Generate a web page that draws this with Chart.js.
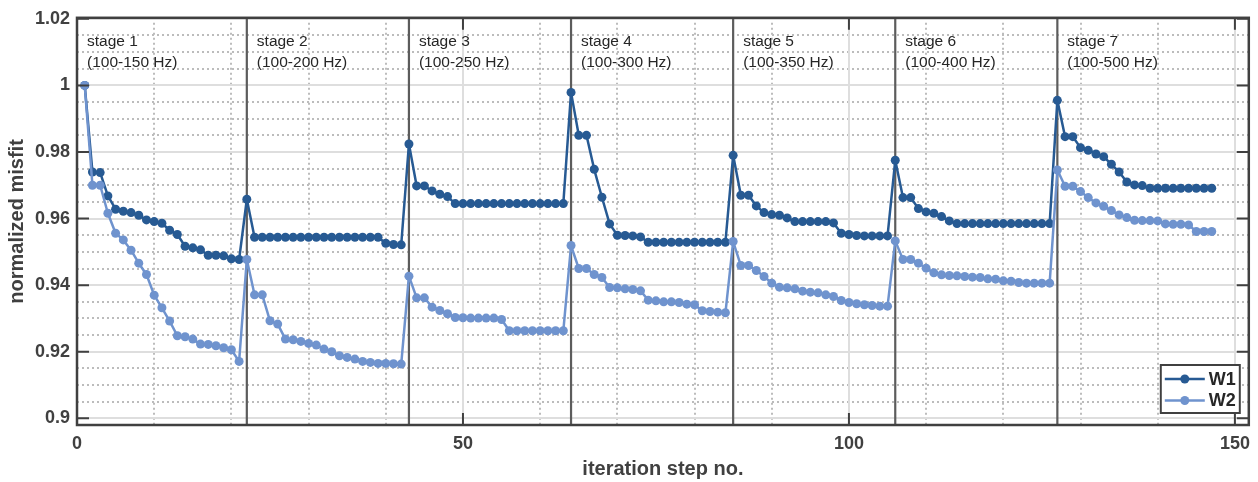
<!DOCTYPE html>
<html lang="en">
<head>
  <meta charset="UTF-8">
  <title>Normalized misfit per iteration</title>
  <script src="https://cdn.jsdelivr.net/npm/chart.js"></script>
  <style>
    body { margin: 0; background: #fff; }
    .chart-box { width: 1258px; height: 482px; }
  </style>
</head>
<body>
  <div class="chart-box">
    <canvas id="misfit-chart" width="1258" height="482"></canvas>
  </div>
  <script>
    // misfit values, one entry per iteration step (step 1 .. 147), 21 steps per stage
    const w1 = [
      1.0, 0.974, 0.9738, 0.9668, 0.9628, 0.9622, 0.9618, 0.961, 0.9596, 0.9591, 0.9586,
      0.9565, 0.9552, 0.9517, 0.9512, 0.9506, 0.949, 0.949, 0.9488, 0.9479, 0.9477,
      0.9658, 0.9544, 0.9544, 0.9544, 0.9544, 0.9544, 0.9544, 0.9544, 0.9544, 0.9544, 0.9544,
      0.9544, 0.9544, 0.9544, 0.9544, 0.9544, 0.9544, 0.9544, 0.9526, 0.9522, 0.9521,
      0.9824, 0.9698, 0.9698, 0.9683, 0.9673, 0.9666, 0.9645, 0.9645, 0.9645, 0.9645, 0.9645,
      0.9645, 0.9645, 0.9645, 0.9645, 0.9645, 0.9645, 0.9645, 0.9645, 0.9645, 0.9645,
      0.9979, 0.985, 0.985, 0.9748, 0.9664, 0.9584, 0.955, 0.9549, 0.9548, 0.9545, 0.9529,
      0.9529, 0.9529, 0.9529, 0.9529, 0.9529, 0.9529, 0.9529, 0.9529, 0.9529, 0.9529,
      0.979, 0.967, 0.967, 0.9638, 0.9618, 0.9612, 0.961, 0.9602, 0.9591, 0.9591, 0.9591,
      0.9591, 0.9591, 0.9587, 0.9556, 0.9552, 0.9549, 0.9548, 0.9548, 0.9548, 0.9548,
      0.9775, 0.9663, 0.9663, 0.963, 0.962, 0.9616, 0.9606, 0.9593, 0.9585, 0.9585, 0.9585,
      0.9585, 0.9585, 0.9585, 0.9585, 0.9585, 0.9585, 0.9585, 0.9585, 0.9585, 0.9585,
      0.9955, 0.9846, 0.9846, 0.9813, 0.9805, 0.9794, 0.9786, 0.9763, 0.974, 0.971, 0.9701,
      0.9699, 0.9691, 0.9691, 0.9691, 0.9691, 0.9691, 0.9691, 0.9691, 0.9691, 0.9691
    ];
    const w2 = [
      1.0, 0.97, 0.97, 0.9616, 0.9556, 0.9536, 0.9505, 0.9466, 0.9432, 0.937, 0.9332,
      0.9292, 0.9248, 0.9245, 0.9238, 0.9223, 0.9222, 0.9218, 0.9212, 0.9206, 0.9171,
      0.9477, 0.9371, 0.9371, 0.9293, 0.9283, 0.9238, 0.9236, 0.9231, 0.9225, 0.922, 0.9208,
      0.92, 0.9188, 0.9183, 0.9178, 0.9171, 0.9168, 0.9165, 0.9165, 0.9164, 0.9163,
      0.9427, 0.9362, 0.9362, 0.9334, 0.9324, 0.9314, 0.9303, 0.9302, 0.9301, 0.9301, 0.9301,
      0.9301, 0.9297, 0.9263, 0.9263, 0.9263, 0.9263, 0.9263, 0.9263, 0.9263, 0.9263,
      0.9519, 0.945, 0.945, 0.9432, 0.9423, 0.9393, 0.9392, 0.9389, 0.9387, 0.9383, 0.9355,
      0.9353, 0.935, 0.935, 0.9348, 0.9343, 0.9341, 0.9323, 0.9321, 0.9319, 0.9317,
      0.9531, 0.9459, 0.9459, 0.9444, 0.9426, 0.9406, 0.9394, 0.9392, 0.9389, 0.9382, 0.9379,
      0.9377, 0.9371, 0.9366, 0.9354, 0.9348, 0.9344, 0.9341, 0.9339, 0.9337, 0.9337,
      0.9533, 0.9477, 0.9477, 0.9466, 0.9451, 0.9437, 0.9431, 0.9429, 0.9428, 0.9426, 0.9424,
      0.9423, 0.9419, 0.9418, 0.9413, 0.9412, 0.9408, 0.9406, 0.9406, 0.9406, 0.9406,
      0.9746, 0.9697, 0.9697, 0.9681, 0.9663, 0.9647, 0.9637, 0.9624, 0.9611, 0.9603, 0.9595,
      0.9594, 0.9594, 0.9593, 0.9584, 0.9583, 0.9583, 0.9581, 0.9561, 0.9561, 0.9561
    ];

    // stage boundaries (first step of each new stage) and their labels
    const stageStarts = [0, 22, 43, 64, 85, 106, 127];
    const stageNames = ['stage 1', 'stage 2', 'stage 3', 'stage 4', 'stage 5', 'stage 6', 'stage 7'];
    const stageBands = ['(100-150 Hz)', '(100-200 Hz)', '(100-250 Hz)', '(100-300 Hz)',
                        '(100-350 Hz)', '(100-400 Hz)', '(100-500 Hz)'];

    const xTicks = [0, 50, 100, 150];
    const yTicks = [0.9, 0.92, 0.94, 0.96, 0.98, 1, 1.02];

    const C_W1 = '#275a93';
    const C_W2 = '#6f93ce';
    const AXIS = '#404040';
    const FONT = '"Liberation Sans", Arial, sans-serif';

    const toPoints = arr => arr.map((v, i) => ({ x: i + 1, y: v }));

    // grid, stage separators and stage captions under the curves
    const backdrop = {
      id: 'backdrop',
      beforeDatasetsDraw(chart) {
        const { ctx, chartArea: a, scales: { x, y } } = chart;
        ctx.save();
        ctx.beginPath();
        ctx.rect(a.left, a.top, a.width, a.height);
        ctx.clip();

        const hline = (py) => { ctx.beginPath(); ctx.moveTo(a.left, py); ctx.lineTo(a.right, py); ctx.stroke(); };
        const vline = (px) => { ctx.beginPath(); ctx.moveTo(px, a.top); ctx.lineTo(px, a.bottom); ctx.stroke(); };

        // minor grid, dotted
        ctx.strokeStyle = '#bcbcbc';
        ctx.lineWidth = 2;
        ctx.setLineDash([2, 3]);
        for (let i = 180; i <= 204; i++) {
          if (i % 4 !== 0) hline(Math.round(y.getPixelForValue(i / 200)));
        }
        for (let v = 10; v < x.max; v += 10) {
          if (v % 50 !== 0) vline(Math.round(x.getPixelForValue(v)));
        }

        // major grid, solid
        ctx.setLineDash([]);
        ctx.strokeStyle = '#dedede';
        yTicks.forEach(v => hline(Math.round(y.getPixelForValue(v))));
        xTicks.forEach(v => vline(Math.round(x.getPixelForValue(v))));

        // stage separators
        ctx.strokeStyle = '#5c5c5c';
        ctx.lineWidth = 2.2;
        stageStarts.slice(1).forEach(s => vline(x.getPixelForValue(s)));
        ctx.restore();

        // stage captions
        ctx.save();
        ctx.fillStyle = '#262626';
        ctx.font = '15.5px ' + FONT;
        ctx.textBaseline = 'middle';
        stageStarts.forEach((s, i) => {
          const px = x.getPixelForValue(s) + 10;
          ctx.fillText(stageNames[i], px, a.top + 24);
          ctx.fillText(stageBands[i], px, a.top + 45);
        });
        ctx.restore();
      },

      // box with inward ticks on all four sides, then the legend
      afterDatasetsDraw(chart) {
        const { ctx, chartArea: a, scales: { x, y } } = chart;
        const tl = 12;
        ctx.save();
        ctx.strokeStyle = AXIS;
        ctx.lineWidth = 2;
        yTicks.forEach(v => {
          const py = y.getPixelForValue(v);
          ctx.beginPath();
          ctx.moveTo(a.left, py); ctx.lineTo(a.left + tl, py);
          ctx.moveTo(a.right, py); ctx.lineTo(a.right - tl, py);
          ctx.stroke();
        });
        xTicks.forEach(v => {
          const px = x.getPixelForValue(v);
          ctx.beginPath();
          ctx.moveTo(px, a.bottom); ctx.lineTo(px, a.bottom - tl);
          ctx.moveTo(px, a.top); ctx.lineTo(px, a.top + tl);
          ctx.stroke();
        });
        ctx.lineWidth = 2.5;
        ctx.strokeRect(a.left, a.top, a.width, a.height);

        // legend
        const lw = 79, lh = 48;
        const lx = a.right - 9 - lw, ly = a.bottom - 12 - lh;
        ctx.fillStyle = '#fff';
        ctx.fillRect(lx, ly, lw, lh);
        ctx.lineWidth = 2;
        ctx.strokeRect(lx, ly, lw, lh);
        ctx.font = 'bold 18px ' + FONT;
        ctx.textBaseline = 'middle';
        chart.data.datasets.forEach((ds, i) => {
          const ry = ly + 14 + i * 21.5;
          ctx.strokeStyle = ds.borderColor;
          ctx.lineWidth = 2.5;
          ctx.beginPath();
          ctx.moveTo(lx + 4, ry); ctx.lineTo(lx + 44, ry);
          ctx.stroke();
          ctx.fillStyle = ds.borderColor;
          ctx.beginPath();
          ctx.arc(lx + 24, ry, 4.5, 0, Math.PI * 2);
          ctx.fill();
          ctx.fillStyle = '#262626';
          ctx.fillText(ds.label, lx + 48, ry + 1);
        });
        ctx.restore();
      }
    };

    new Chart(document.getElementById('misfit-chart'), {
      type: 'line',
      data: {
        datasets: [
          { label: 'W1', data: toPoints(w1), borderColor: C_W1, backgroundColor: C_W1, order: 1 },
          { label: 'W2', data: toPoints(w2), borderColor: C_W2, backgroundColor: C_W2, order: 0 }
        ]
      },
      options: {
        responsive: false,
        animation: false,
        layout: { padding: { left: 0, right: 7, top: 15, bottom: 0 } },
        elements: {
          line: { borderWidth: 2.5, tension: 0, borderJoinStyle: 'round', borderCapStyle: 'round' },
          point: { radius: 4.5, borderWidth: 0, hoverRadius: 4.5 }
        },
        plugins: { legend: { display: false }, tooltip: { enabled: false } },
        scales: {
          x: {
            type: 'linear',
            min: 0,
            max: 151.8,
            afterBuildTicks: s => { s.ticks = xTicks.map(v => ({ value: v })); },
            afterFit: s => { s.height = 57; },
            grid: { display: false, drawTicks: false },
            border: { display: false },
            ticks: { color: AXIS, padding: 8, maxRotation: 0, font: { family: FONT, size: 18, weight: 'bold' } },
            title: {
              display: true, text: 'iteration step no.', color: AXIS,
              padding: { top: 0, bottom: 1 },
              font: { family: FONT, size: 20, weight: 'bold' }
            }
          },
          y: {
            min: 0.898,
            max: 1.0203,
            afterBuildTicks: s => { s.ticks = yTicks.map(v => ({ value: v })); },
            afterFit: s => { s.width = 77; },
            grid: { display: false, drawTicks: false },
            border: { display: false },
            ticks: {
              color: AXIS, padding: 7,
              font: { family: FONT, size: 18, weight: 'bold' },
              callback: v => String(v)
            },
            title: {
              display: true, text: 'normalized misfit', color: AXIS,
              padding: { top: 5, bottom: 0 },
              font: { family: FONT, size: 20, weight: 'bold' }
            }
          }
        }
      },
      plugins: [backdrop]
    });
  </script>
</body>
</html>
